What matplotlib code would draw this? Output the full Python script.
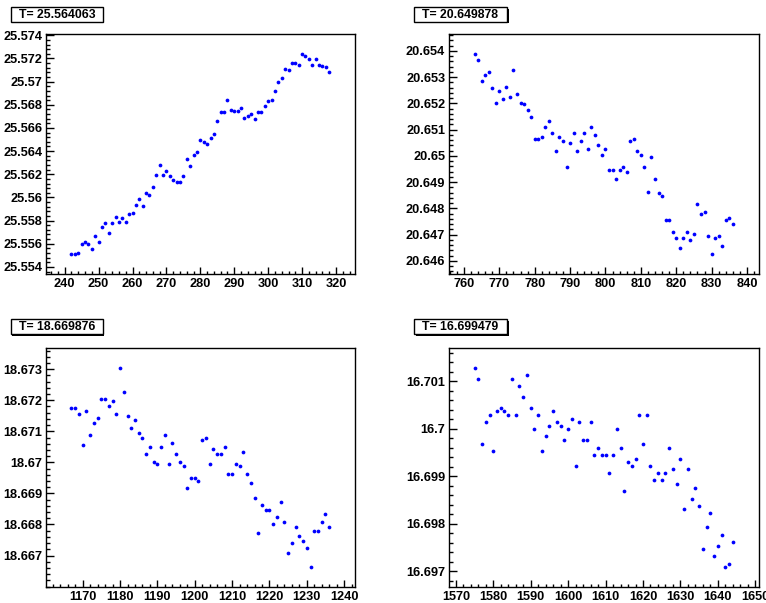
import numpy as np
import matplotlib
matplotlib.use("Agg")
import matplotlib.pyplot as plt
from matplotlib.patches import Rectangle
from matplotlib.ticker import MultipleLocator, FixedLocator, FuncFormatter

plt.rcParams['font.family'] = ['Liberation Sans', 'DejaVu Sans']
plt.rcParams['font.weight'] = 'bold'

# panel titles
titles = ["T= 25.564063", "T= 20.649878", "T= 18.669876", "T= 16.699479"]

# panel 1
x1_start = 242
y1 = [25.55509, 25.55509, 25.55518, 25.55601, 25.55618, 25.55601, 25.55558, 25.55670,
      25.55618, 25.55748, 25.55779, 25.55693, 25.55779, 25.55834, 25.55788, 25.55819,
      25.55788, 25.55854, 25.55862, 25.55931, 25.55986, 25.55923, 25.56041, 25.56023,
      25.56092, 25.56193, 25.56279, 25.56193, 25.56230, 25.56184, 25.56147, 25.56133,
      25.56133, 25.56184, 25.56331, 25.56271, 25.56363, 25.56391, 25.56492, 25.56483,
      25.56460, 25.56515, 25.56546, 25.56659, 25.56736, 25.56736, 25.56845, 25.56759,
      25.56745, 25.56750, 25.56773, 25.56690, 25.56707, 25.56722, 25.56681, 25.56736,
      25.56736, 25.56788, 25.56837, 25.56845, 25.56920, 25.56998, 25.57035, 25.57110,
      25.57104, 25.57159, 25.57159, 25.57144, 25.57236, 25.57219, 25.57196, 25.57141,
      25.57196, 25.57141, 25.57136, 25.57127, 25.57081]

# panel 2
x2_start = 763
y2 = [20.65387, 20.65364, 20.65287, 20.65310, 20.65319, 20.65257, 20.65203, 20.65249,
      20.65218, 20.65264, 20.65226, 20.65326, 20.65234, 20.65203, 20.65196, 20.65173,
      20.65149, 20.65064, 20.65064, 20.65072, 20.65111, 20.65133, 20.65088, 20.65018,
      20.65072, 20.65056, 20.64956, 20.65048, 20.65088, 20.65018, 20.65056, 20.65088,
      20.65025, 20.65111, 20.65080, 20.65041, 20.65003, 20.65025, 20.64948, 20.64948,
      20.64910, 20.64948, 20.64956, 20.64940, 20.65056, 20.65064, 20.65018, 20.65003,
      20.64956, 20.64864, 20.64995, 20.64910, 20.64857, 20.64848, 20.64756, 20.64756,
      20.64709, 20.64686, 20.64648, 20.64686, 20.64709, 20.64679, 20.64702, 20.64818,
      20.64779, 20.64787, 20.64694, 20.64625, 20.64686, 20.64694, 20.64656, 20.64756,
      20.64764, 20.64740]

# panel 3
x3_start = 1167
y3 = [18.67174, 18.67174, 18.67157, 18.67057, 18.67166, 18.67088, 18.67126, 18.67142,
      18.67205, 18.67205, 18.67181, 18.67197, 18.67157, 18.67305, 18.67228, 18.67150,
      18.67111, 18.67135, 18.67096, 18.67080, 18.67026, 18.67049, 18.67002, 18.66995,
      18.67049, 18.67088, 18.66995, 18.67064, 18.67026, 18.67002, 18.66987, 18.66917,
      18.66949, 18.66949, 18.66941, 18.67072, 18.67080, 18.66995, 18.67042, 18.67026,
      18.67026, 18.67049, 18.66964, 18.66964, 18.66995, 18.66987, 18.67034, 18.66964,
      18.66934, 18.66886, 18.66771, 18.66863, 18.66848, 18.66848, 18.66802, 18.66824,
      18.66871, 18.66809, 18.66709, 18.66740, 18.66793, 18.66763, 18.66747, 18.66724,
      18.66662, 18.66778, 18.66778, 18.66809, 18.66833, 18.66793]

# panel 4
x4_start = 1575
y4 = [16.70129, 16.70106, 16.69968, 16.70014, 16.70029, 16.69953, 16.70037, 16.70045,
      16.70037, 16.70029, 16.70106, 16.70029, 16.70091, 16.70068, 16.70113, 16.70045,
      16.69999, 16.70029, 16.69953, 16.69984, 16.70006, 16.70037, 16.70014, 16.70006,
      16.69976, 16.69999, 16.70021, 16.69922, 16.70014, 16.69976, 16.69976, 16.70014,
      16.69945, 16.69960, 16.69945, 16.69945, 16.69907, 16.69945, 16.69999, 16.69960,
      16.69868, 16.69930, 16.69922, 16.69937, 16.70029, 16.69968, 16.70029, 16.69922,
      16.69892, 16.69907, 16.69892, 16.69907, 16.69960, 16.69915, 16.69884, 16.69937,
      16.69831, 16.69915, 16.69853, 16.69876, 16.69838, 16.69746, 16.69792, 16.69823,
      16.69731, 16.69753, 16.69777, 16.69708, 16.69715, 16.69761]

starts = [x1_start, x2_start, x3_start, x4_start]
series = [y1, y2, y3, y4]
# labelled y ticks of each panel: first, last, step
y_ticks = [(25.554, 25.574, 0.002), (20.646, 20.654, 0.001),
           (18.667, 18.673, 0.001), (16.697, 16.701, 0.001)]

W, H = 766, 603
fig = plt.figure(figsize=(W / 100, H / 100), dpi=100)

# pixel boxes: left, top, right, bottom
axes_px = [(45.7, 34.3, 355.0, 274.3), (448.7, 34.3, 758.7, 274.3),
           (45.7, 347.7, 355.0, 587.3), (448.7, 347.7, 758.7, 587.3)]
title_px = [(10.7, 7.3, 103.0, 21.7), (414.0, 7.3, 507.0, 21.7),
            (10.7, 319.0, 103.0, 334.0), (414.0, 319.0, 507.0, 334.0)]


def fmt(v, pos):
    s = "%.3f" % v
    return s.rstrip('0').rstrip('.')


for i in range(4):
    l, t, r, b = axes_px[i]
    ax = fig.add_axes([l / W, 1 - b / H, (r - l) / W, (b - t) / H])
    y = np.array(series[i])
    x = np.arange(starts[i], starts[i] + len(y))
    ax.plot(x, y, 'o', color='#0000ff', ms=2.7, mew=0)

    dx = x[-1] - x[0]
    dy = y.max() - y.min()
    ax.set_xlim(x[0] - 0.1 * dx, x[-1] + 0.1 * dx)
    ax.set_ylim(y.min() - 0.1 * dy, y.max() + 0.1 * dy)

    lo, hi, step = y_ticks[i]
    n = int(round((hi - lo) / step))
    ax.yaxis.set_major_locator(FixedLocator(lo + step * np.arange(n + 1)))
    ax.yaxis.set_minor_locator(MultipleLocator(step / 5))
    ax.yaxis.set_major_formatter(FuncFormatter(fmt))
    ax.xaxis.set_major_locator(MultipleLocator(10))
    ax.xaxis.set_minor_locator(MultipleLocator(2))

    ax.tick_params(axis='both', which='both', direction='in', top=False, right=False,
                   labelsize=9.2, width=1, color='black')
    ax.tick_params(axis='x', which='major', length=5, pad=3)
    ax.tick_params(axis='x', which='minor', length=2.5)
    ax.tick_params(axis='y', which='major', length=5.8, pad=2.5)
    ax.tick_params(axis='y', which='minor', length=2.9)
    for lab in ax.get_xticklabels() + ax.get_yticklabels():
        lab.set_fontweight('bold')
    for sp in ax.spines.values():
        sp.set_linewidth(1)
        sp.set_color('black')

    # title box with shadow
    tl, tt, tr, tb = title_px[i]
    fig.patches.append(Rectangle(((tl + 1.5) / W, 1 - (tb + 1.5) / H), (tr - tl) / W, (tb - tt) / H,
                                 transform=fig.transFigure, facecolor='black',
                                 edgecolor='black', lw=0, zorder=1))
    fig.patches.append(Rectangle((tl / W, 1 - tb / H), (tr - tl) / W, (tb - tt) / H,
                                 transform=fig.transFigure, facecolor='white',
                                 edgecolor='black', lw=1, zorder=2))
    fig.text((tl + tr) / 2 / W, 1 - (tt + tb) / 2 / H, titles[i], ha='center', va='center',
             fontsize=8.8, fontweight='bold', zorder=3)

fig.savefig("out.png", dpi=100)
